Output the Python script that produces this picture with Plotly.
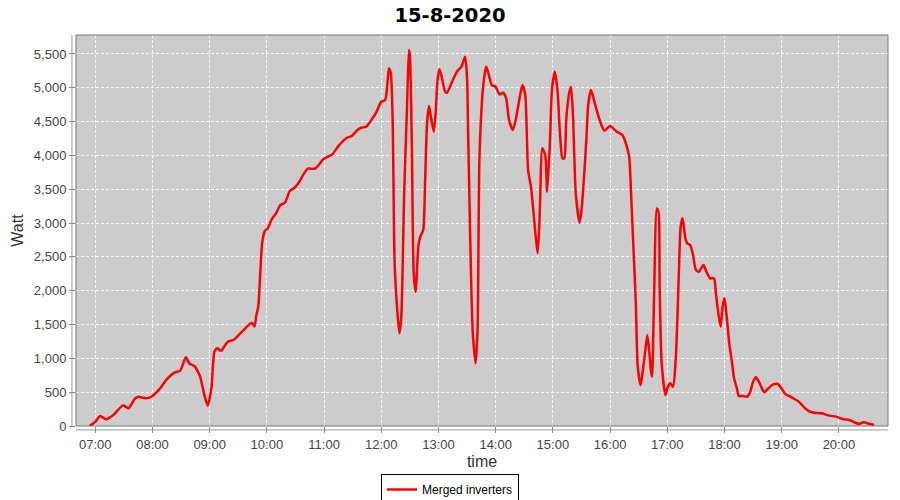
import plotly.graph_objects as go

day = '2020-08-15'

times = [
    '06:54', '07:00', '07:05', '07:11', '07:19', '07:29', '07:35', '07:41', '07:45', '07:53',
    '07:59', '08:08', '08:15', '08:24', '08:29', '08:35', '08:39', '08:44', '08:50', '08:54',
    '08:58', '09:02', '09:05', '09:08', '09:12', '09:19', '09:25', '09:35', '09:44', '09:47',
    '09:49', '09:51', '09:55', '09:58', '10:01', '10:05', '10:10', '10:14', '10:19', '10:24',
    '10:29', '10:34', '10:39', '10:43', '10:50', '10:55', '10:59', '11:04', '11:09', '11:15',
    '11:24', '11:29', '11:35', '11:39', '11:44', '11:49', '11:55', '12:00', '12:04', '12:06',
    '12:08', '12:10', '12:12', '12:14', '12:17', '12:19', '12:21', '12:24', '12:27', '12:29',
    '12:30', '12:32', '12:34', '12:36', '12:39', '12:41', '12:44', '12:46', '12:48', '12:50',
    '12:52', '12:55', '12:57', '12:59', '13:01', '13:03', '13:07', '13:09', '13:15', '13:20',
    '13:24', '13:28', '13:30', '13:31', '13:34', '13:36', '13:39', '13:41', '13:43', '13:47',
    '13:50', '13:52', '13:56', '14:00', '14:04', '14:08', '14:11', '14:14', '14:18', '14:21',
    '14:25', '14:28', '14:31', '14:34', '14:37', '14:39', '14:42', '14:44', '14:46', '14:49',
    '14:52', '14:54', '14:57', '14:59', '15:02', '15:05', '15:07', '15:10', '15:12', '15:14',
    '15:17', '15:19', '15:21', '15:24', '15:28', '15:30', '15:35', '15:37', '15:40', '15:44',
    '15:49', '15:54', '16:00', '16:07', '16:13', '16:16', '16:20', '16:22', '16:24', '16:27',
    '16:29', '16:32', '16:34', '16:37', '16:39', '16:41', '16:43', '16:44', '16:46', '16:49',
    '16:51', '16:52', '16:54', '16:58', '17:00', '17:03', '17:06', '17:09', '17:12', '17:14',
    '17:16', '17:19', '17:21', '17:24', '17:27', '17:30', '17:33', '17:38', '17:41', '17:45',
    '17:49', '17:51', '17:54', '17:56', '17:58', '18:00', '18:02', '18:05', '18:08', '18:10',
    '18:13', '18:15', '18:20', '18:24', '18:27', '18:30', '18:33', '18:36', '18:40', '18:42',
    '18:46', '18:51', '18:56', '19:00', '19:04', '19:08', '19:12', '19:18', '19:24', '19:29',
    '19:34', '19:42', '19:50', '19:57', '20:04', '20:11', '20:16', '20:21', '20:26', '20:32',
    '20:37',
]

watt = [
    0, 60, 148, 99, 163, 305, 262, 394, 433, 409,
    433, 557, 690, 795, 815, 1015, 920, 887, 729, 483,
    300, 580, 1100, 1148, 1113, 1246, 1271, 1409, 1527, 1470,
    1640, 1763, 2700, 2887, 2922, 3055, 3153, 3266, 3300, 3473,
    3522, 3611, 3735, 3803, 3803, 3868, 3942, 3981, 4020, 4138,
    4261, 4286, 4375, 4409, 4424, 4510, 4645, 4793, 4818, 4990,
    5290, 5213, 4474, 2405, 1666, 1370, 1616, 3439, 4720, 5557,
    5483, 4227, 2257, 1985, 2675, 2798, 2897, 3636, 4474, 4730,
    4572, 4350, 4622, 5114, 5272, 5188, 4941, 4926, 5114, 5251,
    5310, 5458, 5139, 4424, 2306, 1370, 927, 1419, 3980, 5040,
    5310, 5236, 5040, 5015, 4902, 4926, 4843, 4523, 4375, 4523,
    4843, 5040, 4892, 3784, 3537, 3266, 2798, 2553, 3045, 4105,
    4005, 3463, 4227, 4966, 5236, 4941, 4424, 3957, 3957, 4523,
    4917, 5015, 4622, 3439, 3005, 3192, 4202, 4744, 4966, 4769,
    4523, 4365, 4434, 4350, 4301, 4202, 3980, 3439, 2798, 1813,
    877, 606, 779, 1123, 1345, 1123, 803, 729, 1813, 3217,
    3143, 2059, 950, 458, 557, 631, 581, 1024, 2207, 2946,
    3070, 2774, 2700, 2675, 2527, 2306, 2281, 2380, 2281, 2183,
    2183, 1961, 1616, 1468, 1763, 1887, 1666, 1222, 927, 705,
    557, 443, 443, 433, 507, 655, 720, 655, 532, 498,
    557, 615, 621, 550, 468, 443, 410, 360, 270, 215,
    197, 187, 153, 138, 103, 89, 55, 30, 55, 30,
    15,
]

x = [f'{day} {t}' for t in times]

fig = go.Figure()
fig.add_trace(go.Scatter(
    x=x, y=watt, name='Merged inverters', mode='lines',
    line={'color': '#ff0000', 'width': 2.5, 'shape': 'spline', 'smoothing': 0.6},
))

tick_font = {'family': 'Liberation Sans', 'size': 13, 'color': '#444444'}
label_font = {'family': 'Liberation Sans', 'size': 16, 'color': '#333333'}
grid = {'showgrid': True, 'gridcolor': 'rgba(255,255,255,0.85)', 'griddash': '3px,2px', 'gridwidth': 1}

fig.update_layout(
    width=900, height=500,
    margin={'t': 35, 'l': 76, 'b': 74, 'r': 12, 'autoexpand': False},
    paper_bgcolor='white',
    plot_bgcolor='#cccccc',
    title={'text': '<b>15-8-2020</b>', 'x': 0.5, 'xanchor': 'center', 'xref': 'container',
           'y': 0.970, 'yanchor': 'middle', 'yref': 'container',
           'font': {'family': 'DejaVu Sans', 'size': 19.5, 'color': 'black'}},
    showlegend=True,
    legend={'orientation': 'h', 'xref': 'container', 'x': 0.5, 'xanchor': 'center',
            'yref': 'container', 'y': 0.052, 'yanchor': 'top',
            'bordercolor': 'black', 'borderwidth': 1, 'bgcolor': 'white',
            'font': {'family': 'Liberation Sans', 'size': 12, 'color': 'black'},
            'itemwidth': 30},
    xaxis={
        'type': 'date', 'automargin': False,
        'range': [f'{day} 06:39:48', f'{day} 20:51:30'],
        'tickformat': '%H:%M', 'dtick': 3600000, 'tick0': f'{day} 07:00',
        **grid,
        'ticks': 'outside', 'ticklen': 6, 'tickcolor': '#888888',
        'tickfont': tick_font, 'zeroline': False,
        'title': {'text': 'time', 'font': label_font, 'standoff': 5},
    },
    yaxis={
        'automargin': False,
        'range': [0, 5780],
        'dtick': 500, 'tickformat': ',d',
        **grid,
        'ticks': 'outside', 'ticklen': 6, 'tickcolor': '#888888',
        'tickfont': tick_font, 'zeroline': False,
        'title': {'text': 'Watt', 'font': label_font, 'standoff': 6},
    },
    shapes=[
        # plot outline
        {'type': 'rect', 'xref': 'x domain', 'yref': 'y domain', 'x0': 0, 'x1': 1, 'y0': 0, 'y1': 1,
         'line': {'color': '#777777', 'width': 1}},
        # offset axis lines
        {'type': 'line', 'xref': 'x domain', 'yref': 'y domain', 'x0': -0.005, 'x1': -0.005, 'y0': 0, 'y1': 1,
         'line': {'color': '#999999', 'width': 1}},
        {'type': 'line', 'xref': 'x domain', 'yref': 'y domain', 'x0': 0, 'x1': 1, 'y0': -0.01, 'y1': -0.01,
         'line': {'color': '#999999', 'width': 1}},
    ],
)

# the page body has a default 8px margin, drop it so the figure sits at 0,0
fig.write_html('out.html', config={'displayModeBar': False},
               post_script="document.body.style.margin='0';")
